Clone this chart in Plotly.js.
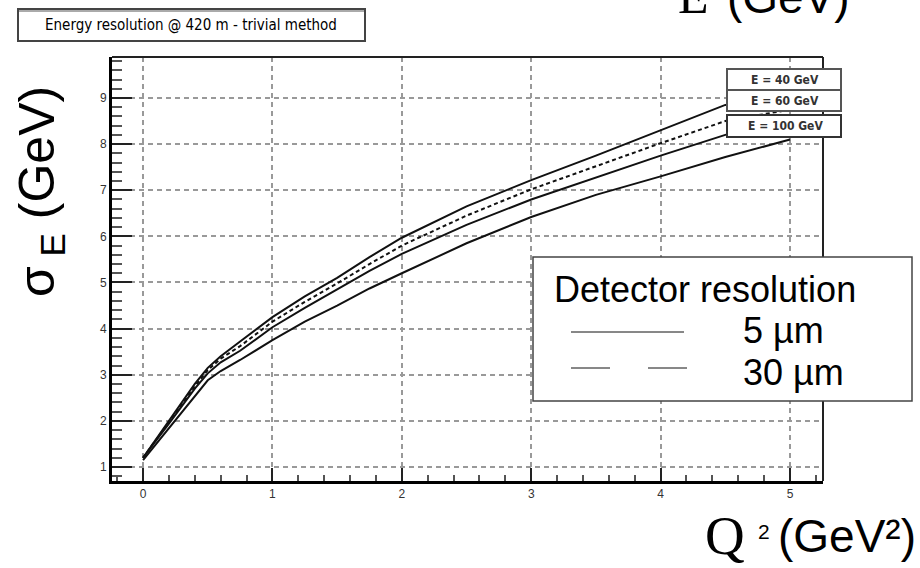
<!DOCTYPE html>
<html>
<head>
<meta charset="utf-8">
<script src="https://cdn.plot.ly/plotly-3.0.1.min.js"></script>
<style>html,body{margin:0;padding:0;background:#fff;}#chart{width:920px;height:568px;}</style>
</head>
<body>
<div id="chart"></div>
<script>
// Q^2 values (GeV^2)
const q2 = [0, 0.1, 0.2, 0.3, 0.4, 0.5, 0.6, 0.75, 1, 1.25, 1.5, 1.75, 2, 2.5, 3, 3.5, 4, 4.5, 5];
// sigma_E (GeV) curves
const sigA = [1.2, 1.6, 2.0, 2.4, 2.8, 3.15, 3.4, 3.72, 4.25, 4.7, 5.1, 5.55, 5.97, 6.65, 7.22, 7.75, 8.3, 8.85, 9.0];
const sigB = [1.2, 1.58, 1.97, 2.36, 2.75, 3.1, 3.35, 3.62, 4.15, 4.58, 4.98, 5.4, 5.8, 6.45, 7.02, 7.52, 8.02, 8.5, 8.75];
const sigC = [1.2, 1.56, 1.94, 2.32, 2.7, 3.03, 3.27, 3.52, 4.03, 4.45, 4.85, 5.25, 5.62, 6.25, 6.8, 7.28, 7.75, 8.2, 8.55];
const sigD = [1.15, 1.5, 1.85, 2.2, 2.55, 2.88, 3.08, 3.32, 3.75, 4.15, 4.5, 4.87, 5.2, 5.85, 6.42, 6.9, 7.3, 7.72, 8.1];

const energyLabels = ["E = 40 GeV", "E = 60 GeV", "E = 100 GeV"];
const titleText = "Energy resolution @ 420 m - trivial method";
const legendTitle = "Detector resolution";
const resLabels = ["5 µm", "30 µm"];

// pixel -> paper helpers (plot area: x 112..823, y 57..481)
const L = 112, R = 823, T = 57, B = 481;
const fx = p => (p - L) / (R - L);
const fy = p => (B - p) / (B - T);

function mk(y, dash) {
  return {x: q2, y: y, type: 'scatter', mode: 'lines',
          line: {color: '#111', width: 2, dash: dash}, showlegend: false, hoverinfo: 'skip'};
}
const data = [mk(sigA, 'solid'), mk(sigB, '4px,3px'), mk(sigC, 'solid'), mk(sigD, 'solid')];

const sans = 'Liberation Sans, Arial, sans-serif';
const narrow = 'DejaVu Sans Condensed, Liberation Sans Narrow, Arial Narrow, sans-serif';
const serif = 'Liberation Serif, Times New Roman, serif';

const shapes = [
  // frame top & right
  {type: 'line', xref: 'paper', yref: 'paper', x0: 0, x1: 1, y0: 1, y1: 1, line: {color: '#222', width: 2}},
  {type: 'line', xref: 'paper', yref: 'paper', x0: 1, x1: 1, y0: 0, y1: 1, line: {color: '#222', width: 2}},
  // title box
  {type: 'rect', xref: 'paper', yref: 'paper', x0: fx(18), x1: fx(365), y0: fy(41), y1: fy(9),
   line: {color: '#444', width: 2}, fillcolor: '#fff', layer: 'below'},
  {type: 'line', xref: 'paper', yref: 'paper', x0: fx(19), x1: fx(364), y0: fy(11), y1: fy(11),
   line: {color: '#aaa', width: 2}, layer: 'below'},
  // energy boxes
  {type: 'rect', xref: 'paper', yref: 'paper', x0: fx(727), x1: fx(841), y0: fy(90), y1: fy(69),
   line: {color: '#555', width: 2}, fillcolor: '#fff', layer: 'above'},
  {type: 'rect', xref: 'paper', yref: 'paper', x0: fx(727), x1: fx(841), y0: fy(111), y1: fy(90),
   line: {color: '#555', width: 2}, fillcolor: '#fff', layer: 'above'},
  {type: 'rect', xref: 'paper', yref: 'paper', x0: fx(727), x1: fx(841), y0: fy(137), y1: fy(115),
   line: {color: '#333', width: 2}, fillcolor: '#fff', layer: 'above'},
  // detector resolution legend box
  {type: 'rect', xref: 'paper', yref: 'paper', x0: fx(533), x1: fx(912), y0: fy(401), y1: fy(257),
   line: {color: '#444', width: 1.5}, fillcolor: '#fff', layer: 'above'},
  {type: 'line', xref: 'paper', yref: 'paper', x0: fx(571), x1: fx(684), y0: fy(332), y1: fy(332),
   line: {color: '#111', width: 1}, layer: 'above'},
  {type: 'line', xref: 'paper', yref: 'paper', x0: fx(571), x1: fx(610), y0: fy(368), y1: fy(368),
   line: {color: '#111', width: 1}, layer: 'above'},
  {type: 'line', xref: 'paper', yref: 'paper', x0: fx(648), x1: fx(687), y0: fy(368), y1: fy(368),
   line: {color: '#111', width: 1}, layer: 'above'}
];

function txt(px, py, text, font, xa, extra) {
  return Object.assign({xref: 'paper', yref: 'paper', x: fx(px), y: fy(py), text: text,
    showarrow: false, xanchor: xa || 'center', yanchor: 'middle', font: font}, extra || {});
}

const ann = [
  txt(191, 25, titleText, {family: narrow, size: 15, color: '#000'}),
  txt(785, 79.5, '<b>' + energyLabels[0] + '</b>', {family: narrow, size: 12, color: '#333'}),
  txt(785, 100.5, '<b>' + energyLabels[1] + '</b>', {family: narrow, size: 12, color: '#333'}),
  txt(785, 126, '<b>' + energyLabels[2] + '</b>', {family: narrow, size: 12, color: '#333'}),
  txt(552, 289, legendTitle, {family: sans, size: 36, color: '#000'}, 'left'),
  txt(741, 330, resLabels[0], {family: sans, size: 36, color: '#000'}, 'left'),
  txt(741, 372, resLabels[1], {family: sans, size: 36, color: '#000'}, 'left'),
  // x-axis title
  txt(703, 535, 'Q', {family: serif, size: 55, color: '#000'}, 'left'),
  txt(756, 531, '2', {family: sans, size: 21, color: '#000'}, 'left'),
  txt(776, 536, '(GeV²)', {family: sans, size: 46, color: '#000'}, 'left'),
  // top-right cut text
  txt(676, -4, 'E', {family: serif, size: 50, color: '#000'}, 'left'),
  txt(725, -3, '(GeV)', {family: sans, size: 46, color: '#000'}, 'left'),
  // y-axis title
  txt(40, 192, 'σ<sub> E</sub> (GeV)', {family: sans, size: 50, color: '#000'}, 'center', {textangle: -90})
];

const layout = {
  width: 920, height: 568,
  margin: {l: L, r: 920 - R, t: T, b: 568 - B, pad: 0},
  paper_bgcolor: '#fff', plot_bgcolor: '#fff',
  showlegend: false,
  xaxis: {
    range: [-0.24, 5.255], tickvals: [0, 1, 2, 3, 4, 5], ticktext: ['0', '1', '2', '3', '4', '5'],
    ticks: 'inside', ticklen: 13, tickwidth: 2, tickcolor: '#222',
    showline: true, linecolor: '#000', linewidth: 3,
    showgrid: true, gridcolor: '#999', gridwidth: 2, griddash: '5px,4px',
    zeroline: false,
    tickfont: {family: sans, size: 12, color: '#333'},
    minor: {dtick: 0.2, tick0: 0, ticks: 'inside', ticklen: 6, tickwidth: 2, tickcolor: '#555', showgrid: false}
  },
  yaxis: {
    range: [0.696, 9.889], tickvals: [1, 2, 3, 4, 5, 6, 7, 8, 9],
    ticks: 'inside', ticklen: 20, tickwidth: 2, tickcolor: '#222',
    showline: true, linecolor: '#000', linewidth: 3,
    showgrid: true, gridcolor: '#999', gridwidth: 2, griddash: '5px,4px',
    zeroline: false,
    tickfont: {family: sans, size: 12, color: '#333'},
    minor: {dtick: 0.2, tick0: 0, ticks: 'inside', ticklen: 10, tickwidth: 2, tickcolor: '#555', showgrid: false}
  },
  shapes: shapes,
  annotations: ann
};

Plotly.newPlot('chart', data, layout, {staticPlot: true, displayModeBar: false});
</script>
</body>
</html>
